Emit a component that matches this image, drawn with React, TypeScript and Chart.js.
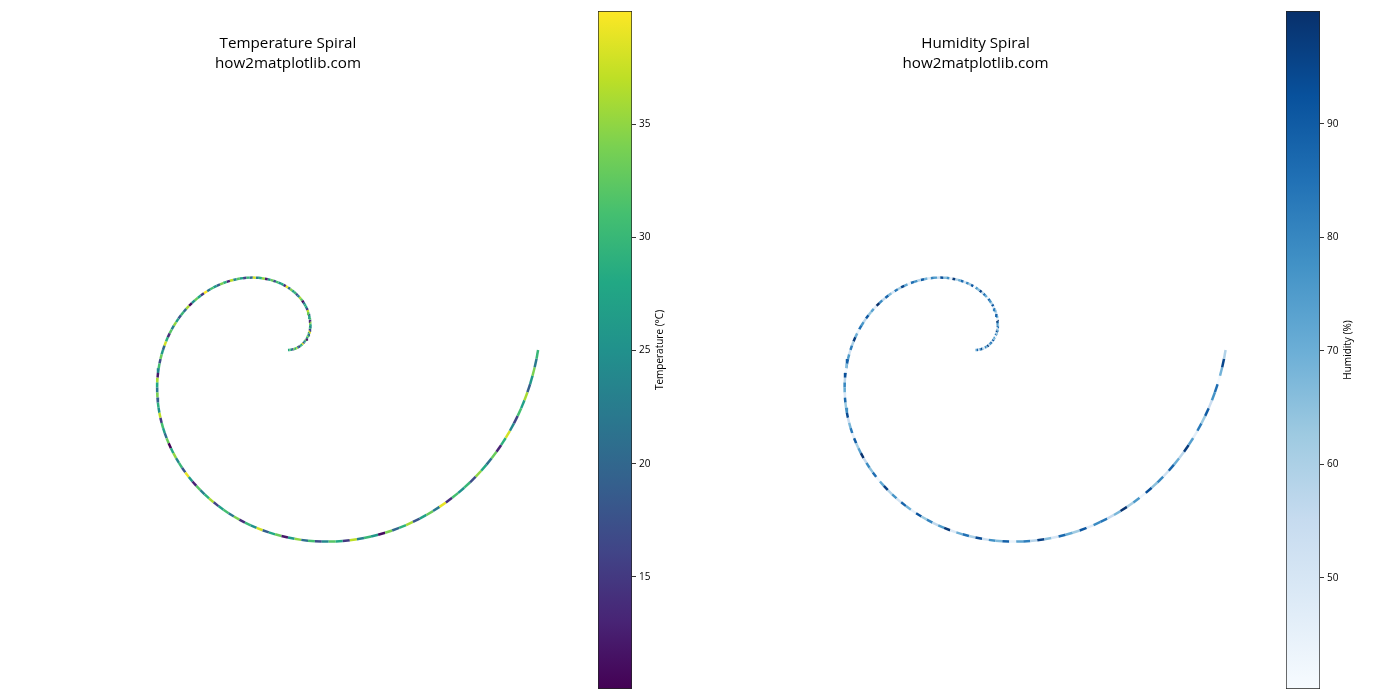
import { useEffect, useRef } from "react";
import { Chart, registerables } from "chart.js";

Chart.register(...registerables);

// Spiral parameter (angle along the spiral, degrees), r = angle in radians
const spiralAngleDeg = [
  0, 2, 4, 6, 8, 10, 12, 14, 16, 18, 20, 22, 24, 26, 28, 30, 32, 34, 36, 38,
  40, 42, 44, 46, 48, 50, 52, 54, 56, 58, 60, 62, 64, 66, 68, 70, 72, 74, 76, 78,
  80, 82, 84, 86, 88, 90, 92, 94, 96, 98, 100, 102, 104, 106, 108, 110, 112, 114, 116, 118,
  120, 122, 124, 126, 128, 130, 132, 134, 136, 138, 140, 142, 144, 146, 148, 150, 152, 154, 156, 158,
  160, 162, 164, 166, 168, 170, 172, 174, 176, 178, 180, 182, 184, 186, 188, 190, 192, 194, 196, 198,
  200, 202, 204, 206, 208, 210, 212, 214, 216, 218, 220, 222, 224, 226, 228, 230, 232, 234, 236, 238,
  240, 242, 244, 246, 248, 250, 252, 254, 256, 258, 260, 262, 264, 266, 268, 270, 272, 274, 276, 278,
  280, 282, 284, 286, 288, 290, 292, 294, 296, 298, 300, 302, 304, 306, 308, 310, 312, 314, 316, 318,
  320, 322, 324, 326, 328, 330, 332, 334, 336, 338, 340, 342, 344, 346, 348, 350, 352, 354, 356, 358,
  360,
];

const temperature = [
  28, 31, 24, 17, 33, 29, 36, 22, 14, 30, 27, 38, 19, 25, 32, 12, 29, 34, 21, 26,
  39, 16, 30, 23, 28, 35, 13, 31, 27, 20, 33, 37, 15, 26, 29, 22, 11, 32, 36, 24,
  18, 30, 27, 34, 21, 39, 14, 28, 25, 31, 17, 33, 26, 12, 35, 29, 23, 38, 20, 30,
  16, 27, 32, 24, 37, 13, 29, 34, 19, 26, 31, 22, 39.99, 15, 28, 33, 25, 11, 36, 21,
  30, 18, 27, 35, 23, 32, 14, 29, 38, 20, 26, 33, 17, 31, 24, 12, 36, 28, 22, 34,
  19, 29, 25, 37, 15, 31, 27, 21, 33, 10.05, 28, 35, 24, 30, 18, 39, 26, 13, 32, 23,
  29, 36, 16, 27, 31, 22, 34, 14, 30, 25, 38, 19, 28, 33, 12, 26, 35, 21, 31, 17,
  24, 32, 28, 15, 37, 23, 30, 26, 11, 34, 20, 29, 36, 18, 27, 33, 22, 39, 14, 31,
  25, 30, 17, 35, 28, 21, 33, 13, 29, 38, 24, 16, 31, 27, 36, 19, 26, 34, 22, 30,
  28,
];

const humidity = [
  72, 88, 55, 79, 94, 63, 47, 81, 69, 97, 58, 76, 85, 51, 90, 67, 74, 42, 83, 61,
  95, 70, 53, 86, 64, 78, 99, 45, 73, 89, 57, 68, 82, 49, 92, 60, 77, 87, 44, 71,
  84, 56, 96, 66, 75, 41, 91, 62, 80, 52, 87, 70, 59, 98, 46, 78, 65, 93, 54, 74,
  81, 48, 69, 90, 58, 77, 86, 43, 72, 95, 61, 83, 50, 67, 88, 56, 79, 99.96, 47, 73,
  64, 91, 57, 76, 85, 44, 70, 97, 60, 82, 52, 75, 89, 66, 40.2, 93, 58, 80, 71, 49,
  87, 63, 78, 94, 54, 68, 83, 46, 90, 61, 74, 99, 55, 79, 65, 86, 42, 72, 96, 59,
  77, 51, 88, 69, 45, 92, 63, 81, 56, 75, 98, 48, 70, 85, 60, 94, 53, 78, 67, 89,
  44, 73, 82, 58, 96, 66, 50, 87, 71, 62, 91, 47, 79, 84, 55, 68, 99, 61, 76, 43,
  93, 65, 80, 52, 88, 70, 57, 97, 74, 46, 83, 63, 90, 54, 77, 86, 41, 69, 95, 59,
  81,
];

const temperatureTicks = [15, 20, 25, 30, 35];
const humidityTicks = [50, 60, 70, 80, 90];

const VIRIDIS = [
  "#440154", "#482475", "#414487", "#355f8d", "#2a788e", "#21918c",
  "#22a884", "#44bf70", "#7ad151", "#bddf26", "#fde725",
];
const BLUES = [
  "#f7fbff", "#deebf7", "#c6dbef", "#9ecae1", "#6baed6", "#4292c6",
  "#2171b5", "#08519c", "#08306b",
];

const FONT = "'Open Sans', 'DejaVu Sans', sans-serif";

function hexToRgb(h: string) {
  const n = parseInt(h.slice(1), 16);
  return [(n >> 16) & 255, (n >> 8) & 255, n & 255];
}

function colorAt(stops: string[], t: number) {
  const c = Math.max(0, Math.min(1, t)) * (stops.length - 1);
  const i = Math.min(stops.length - 2, Math.floor(c));
  const f = c - i;
  const a = hexToRgb(stops[i]);
  const b = hexToRgb(stops[i + 1]);
  const m = a.map((v, k) => Math.round(v + (b[k] - v) * f));
  return `rgb(${m[0]},${m[1]},${m[2]})`;
}

const PX_PER_UNIT = 39.8;

type PanelProps = {
  left: number;
  originX: number;
  title: string;
  values: number[];
  stops: string[];
  ticks: number[];
  label: string;
};

function Panel({ left, originX, title, values, stops, ticks, label }: PanelProps) {
  const spiralRef = useRef<HTMLCanvasElement>(null);
  const barRef = useRef<HTMLCanvasElement>(null);
  const vmin = Math.min(...values);
  const vmax = Math.max(...values);
  const spiralW = 590;
  const H = 700;

  useEffect(() => {
    const points = spiralAngleDeg.map((d) => {
      const t = (d * Math.PI) / 180;
      return { x: t * Math.cos(t), y: t * Math.sin(t) };
    });
    const norm = (v: number) => (v - vmin) / (vmax - vmin);
    const spiral = new Chart(spiralRef.current!, {
      type: "scatter",
      data: {
        datasets: [
          {
            data: points,
            showLine: true,
            pointRadius: 0,
            pointHoverRadius: 0,
            borderWidth: 2.5,
            borderColor: "#888",
            tension: 0,
            segment: {
              borderColor: (c: any) => colorAt(stops, norm(values[c.p0DataIndex])),
            },
          } as any,
        ],
      },
      options: {
        animation: false,
        responsive: false,
        events: [],
        layout: { padding: 0, autoPadding: false } as any,
        plugins: { legend: { display: false }, tooltip: { enabled: false } },
        scales: {
          x: {
            type: "linear",
            display: false,
            min: -originX / PX_PER_UNIT,
            max: (spiralW - originX) / PX_PER_UNIT,
          },
          y: {
            type: "linear",
            display: false,
            min: -(H / 2) / PX_PER_UNIT,
            max: H / 2 / PX_PER_UNIT,
          },
        },
      },
    });

    const labelPlugin = {
      id: "cbLabel",
      afterDraw(chart: any) {
        const { ctx, chartArea } = chart;
        ctx.save();
        ctx.translate(chartArea.right + 28, (chartArea.top + chartArea.bottom) / 2);
        ctx.rotate(-Math.PI / 2);
        ctx.fillStyle = "#000";
        ctx.font = `10px ${FONT}`;
        ctx.textAlign = "center";
        ctx.textBaseline = "middle";
        ctx.fillText(label, 0, 0);
        ctx.restore();
      },
    };

    const bar = new Chart(barRef.current!, {
      type: "bar",
      data: {
        labels: [""],
        datasets: [
          {
            data: [[vmin, vmax]] as any,
            backgroundColor: (c: any) => {
              const area = c.chart.chartArea;
              if (!area) return stops[0];
              const g = c.chart.ctx.createLinearGradient(0, area.bottom, 0, area.top);
              stops.forEach((s, i) => g.addColorStop(i / (stops.length - 1), s));
              return g;
            },
            borderColor: "#222",
            borderWidth: 1,
            borderSkipped: false,
            barPercentage: 1,
            categoryPercentage: 1,
          } as any,
        ],
      },
      options: {
        animation: false,
        responsive: false,
        events: [],
        layout: { padding: { left: 8, top: 11, bottom: 11, right: 0 }, autoPadding: false } as any,
        plugins: { legend: { display: false }, tooltip: { enabled: false } },
        scales: {
          x: { display: false },
          y: {
            position: "right",
            min: vmin,
            max: vmax,
            afterBuildTicks: (s: any) => {
              s.ticks = ticks.map((v) => ({ value: v }));
            },
            afterFit: (s: any) => {
              s.width = 58;
            },
            grid: {
              drawOnChartArea: false,
              drawTicks: true,
              tickLength: 4,
              color: "#000",
              lineWidth: 0.8,
            },
            border: { display: false },
            ticks: {
              color: "#000",
              padding: 3,
              font: { size: 10, family: FONT },
            },
          },
        },
      },
      plugins: [labelPlugin],
    });

    return () => {
      spiral.destroy();
      bar.destroy();
    };
  }, []);

  return (
    <>
      <canvas
        ref={spiralRef}
        width={spiralW}
        height={H}
        style={{ position: "absolute", left, top: 0, width: spiralW, height: H }}
      />
      <canvas
        ref={barRef}
        width={100}
        height={H}
        style={{ position: "absolute", left: left + spiralW, top: 0, width: 100, height: H }}
      />
      <div
        style={{
          position: "absolute",
          left: left + originX - 200,
          width: 400,
          top: 32,
          textAlign: "center",
          fontFamily: FONT,
          fontSize: 15.2,
          lineHeight: "20px",
          color: "#000",
          whiteSpace: "pre",
        }}
      >
        {title}
      </div>
    </>
  );
}

export default function App() {
  return (
    <div
      style={{
        position: "fixed",
        left: 0,
        top: 0,
        width: 1400,
        height: 700,
        background: "#fff",
        overflow: "hidden",
      }}
    >
      <Panel
        left={0}
        originX={288}
        title={"Temperature Spiral\nhow2matplotlib.com"}
        values={temperature}
        stops={VIRIDIS}
        ticks={temperatureTicks}
        label="Temperature (°C)"
      />
      <Panel
        left={688}
        originX={287.5}
        title={"Humidity Spiral\nhow2matplotlib.com"}
        values={humidity}
        stops={BLUES}
        ticks={humidityTicks}
        label="Humidity (%)"
      />
    </div>
  );
}
